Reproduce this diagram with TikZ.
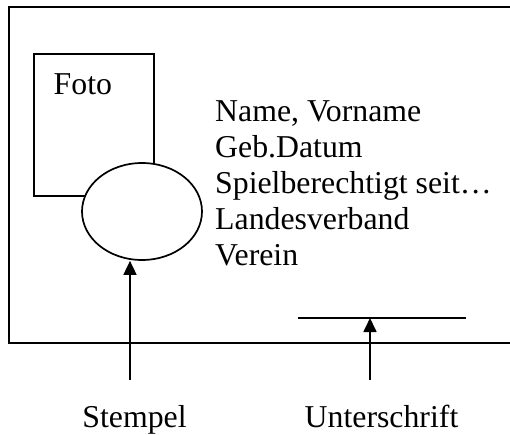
\documentclass[tikz,border=0pt]{standalone}
\usepackage{fontspec}
\setmainfont{Liberation Serif}
\usetikzlibrary{shapes.geometric,arrows.meta}
\tikzset{
  ln/.style={line width=1.7pt, draw=black},
  txt/.style={inner sep=0pt, font=\fontsize{31.8}{36.6}\selectfont},
  arr/.style={ln, -{Triangle[length=14pt,width=13pt]}},
}
\begin{document}
\begin{tikzpicture}[x=1pt,y=-1pt]
\useasboundingbox (0,0) rectangle (510,435);
% outer card (right side runs off the picture)
\draw[ln] (530,7) -- (9,7) -- (9,343) -- (530,343);
% photo
\node[ln, rectangle, minimum width=120pt, minimum height=142pt, inner sep=0pt] (foto) at (94,125) {};
\node[txt, anchor=base west] (fototxt) at (53.5,95) {Foto};
% stamp
\node[ln, ellipse, fill=white, minimum width=120pt, minimum height=97pt, inner sep=0pt] (stempel) at (142,211.5) {};
% data lines
\node[txt, anchor=base west] (l1) at (215,121.4) {Name, Vorname};
\node[txt, anchor=base west] (l2) at (215,157.3) {Geb.Datum};
\node[txt, anchor=base west] (l3) at (215,193.2) {Spielberechtigt seit…};
\node[txt, anchor=base west] (l4) at (215,229.1) {Landesverband};
\node[txt, anchor=base west] (l5) at (215,265) {Verein};
% signature line
\coordinate (ul) at (298,318);
\coordinate (ur) at (466,318);
\draw[ln] (ul) -- (ur);
% labels and arrows
\node[txt, anchor=base] (stlab) at (134.5,427.5) {Stempel};
\node[txt, anchor=base] (unlab) at (381.5,427.5) {Unterschrift};
\coordinate (s0) at (130,380);
\coordinate (u0) at (370,380);
\draw[arr] (s0) -- (s0 |- stempel.south);
\draw[arr] (u0) -- (u0 |- ul);
\end{tikzpicture}
\end{document}
